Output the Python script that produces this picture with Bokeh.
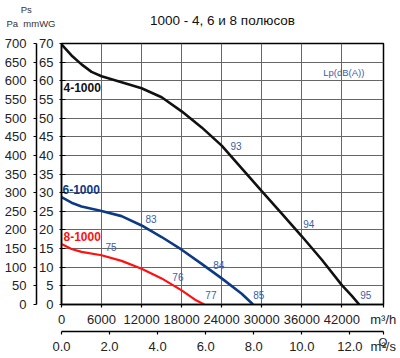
from bokeh.plotting import figure
from bokeh.layouts import column
from bokeh.models import Range1d, LinearAxis, FixedTicker, NumeralTickFormatter
from bokeh.core.properties import value
from bokeh.embed import file_html
from bokeh.resources import INLINE

# ---- data ----
flow_4 = [0, 1500, 3000, 4500, 6000, 9000, 12000, 15000, 18000, 21000, 24000,
          27000, 30000, 33000, 36000, 39000, 42000, 43500, 44600]
ps_4 = [69.8, 66.8, 64.4, 62.4, 61.2, 59.6, 58.0, 55.6, 51.8, 47.5, 42.6,
        36.5, 30.4, 24.4, 18.3, 12.0, 5.2, 2.3, 0.0]

flow_6 = [0, 1500, 3000, 6000, 9000, 12000, 15000, 18000, 21000, 24000, 27000, 28700]
ps_6 = [28.8, 27.3, 26.3, 25.1, 23.7, 21.2, 18.1, 14.7, 10.9, 7.0, 2.9, 0.0]

flow_8 = [0, 1500, 3000, 6000, 9000, 12000, 15000, 18000, 20000, 21400]
ps_8 = [16.2, 14.9, 14.1, 13.2, 11.7, 9.6, 7.0, 3.8, 1.3, 0.0]

lp_text = ["93", "94", "95", "83", "84", "85", "75", "76", "77"]
lp_x = [25300, 36200, 44740, 12570, 22740, 28730, 6580, 16610, 21550]
lp_y = [42.4, 21.5, 2.5, 22.85, 10.5, 2.5, 15.35, 7.3, 2.5]

series_names = ["4-1000", "6-1000", "8-1000"]
series_colors = ["#111111", "#0c3a84", "#ff1111"]
name_x = [300, 150, 300]
name_y = [58.2, 30.9, 18.3]

ticks_m3h = [0, 6000, 12000, 18000, 24000, 30000, 36000, 42000]
ticks_m3s = [0, 2, 4, 6, 8, 10, 12]
ticks_mm = list(range(0, 75, 5))
ticks_pa = list(range(0, 750, 50))

title_text = "1000 - 4, 6 и 8 полюсов"
cap_ps = "Ps"
cap_pa = "Pa"
cap_mm = "mmWG"
unit_h = "m³/h"
unit_s = "m³/s"
q_text = "Q"

X_MAX = 48240
H_UNIT_TICK = 48200
S_UNIT_TICK = 13.39
FONT = "Liberation Sans"
LBL = "#222222"
CAPC = "#333333"
NUMC = "#3a5ea4"
NB = "\u00a0"
HEAD_H = 33


def bare(fig):
    fig.outline_line_color = None
    fig.grid.visible = False


def style(ax, size, tin, tout, standoff):
    ax.major_label_text_font = FONT
    ax.major_label_text_font_size = size
    ax.major_label_text_color = LBL
    ax.axis_line_color = "black"
    ax.axis_line_width = 1.5
    ax.major_tick_line_color = "black"
    ax.major_tick_line_width = 1.2
    ax.major_tick_in = tin
    ax.major_tick_out = tout
    ax.minor_tick_line_color = None
    ax.major_label_standoff = standoff


def text_axis(ticks, overrides, standoff, size, y_range_name="default"):
    ax = LinearAxis(ticker=FixedTicker(ticks=ticks), y_range_name=y_range_name)
    ax.major_label_overrides = overrides
    ax.axis_line_color = None
    ax.major_tick_line_color = None
    ax.minor_tick_line_color = None
    ax.major_tick_in = 0
    ax.major_tick_out = 0
    ax.major_label_standoff = standoff
    ax.major_label_text_font = FONT
    ax.major_label_text_font_size = size
    return ax


# ---------- header strip (title and unit captions) ----------
top = figure(frame_width=322, frame_height=HEAD_H,
             min_border_left=61, min_border_right=17, min_border_top=0, min_border_bottom=0,
             x_range=Range1d(61, 383), y_range=Range1d(HEAD_H, 0),
             x_axis_location=None, y_axis_location=None,
             toolbar_location=None, output_backend="svg")
bare(top)
top.text(x=[222], y=[20], text=[title_text], text_font=value(FONT),
         text_font_size=value("13.5px"), text_color="#111111",
         text_align="center", text_baseline="middle")
cap = text_axis([8.5, 23], {8.5: cap_ps + NB * 9, 23: cap_pa + NB * 2 + cap_mm}, 6, "9.5px")
cap.major_label_text_color = CAPC
top.add_layout(cap, "left")

# ---------- main chart ----------
p = figure(frame_width=322, frame_height=261,
           min_border_left=61, min_border_right=17, min_border_top=10, min_border_bottom=25,
           x_range=Range1d(0, X_MAX), y_range=Range1d(0, 70),
           x_axis_location=None, y_axis_location=None,
           toolbar_location=None, output_backend="svg",
           background_fill_color="white", border_fill_color="white")
p.outline_line_color = "black"
p.outline_line_width = 1.5
p.extra_y_ranges = {"pa": Range1d(0, 700)}

p.xgrid.ticker = FixedTicker(ticks=ticks_m3h)
p.ygrid.ticker = FixedTicker(ticks=ticks_mm)
p.grid.grid_line_color = "#666666"
p.grid.grid_line_width = 1
p.grid.grid_line_alpha = 1

ax_mm = LinearAxis(ticker=FixedTicker(ticks=ticks_mm))
style(ax_mm, "13px", 4, 2, 6)
p.add_layout(ax_mm, "left")

ax_pa = LinearAxis(y_range_name="pa", ticker=FixedTicker(ticks=ticks_pa))
style(ax_pa, "13px", 0, 3, 7)
p.add_layout(ax_pa, "left")

ax_h = LinearAxis(ticker=FixedTicker(ticks=ticks_m3h + [H_UNIT_TICK]),
                  formatter=NumeralTickFormatter(format="0"))
style(ax_h, "13px", 0, 3, 4)
ax_h.major_label_overrides = {H_UNIT_TICK: unit_h}
p.add_layout(ax_h, "below")

# curves
p.line(flow_4, ps_4, line_color=series_colors[0], line_width=2.6)
p.line(flow_6, ps_6, line_color=series_colors[1], line_width=2.6)
p.line(flow_8, ps_8, line_color=series_colors[2], line_width=2.2)

# sound level numbers
p.text(x=lp_x, y=lp_y, text=lp_text, text_font=value(FONT), text_font_size=value("10px"),
       text_color=NUMC, text_baseline="middle", text_align="left")
p.text(x=[39200], y=[62.2], text=["Lp(dB(A))"], text_font=value(FONT),
       text_font_size=value("9.5px"), text_color=NUMC, text_baseline="middle", text_align="left")

# series names
p.text(x=name_x, y=name_y, text=series_names, text_font=value(FONT),
       text_font_size=value("12px"), text_font_style="bold", text_color=series_colors,
       text_baseline="middle", text_align="left")

# ---------- second flow axis (m3/s) ----------
bot = figure(frame_width=322, frame_height=2,
             min_border_left=61, min_border_right=17, min_border_top=0, min_border_bottom=27,
             x_range=Range1d(0, X_MAX / 3600), y_range=Range1d(0, 1),
             x_axis_location=None, y_axis_location=None,
             toolbar_location=None, output_backend="svg")
bare(bot)
ax_s = LinearAxis(ticker=FixedTicker(ticks=ticks_m3s + [S_UNIT_TICK]),
                  formatter=NumeralTickFormatter(format="0.0"))
style(ax_s, "13px", 0, 3, 4)
ax_s.major_label_overrides = {S_UNIT_TICK: unit_s}
bot.add_layout(ax_s, "below")
q_ax = text_axis([1], {1: q_text}, -5, "11.5px")
q_ax.major_label_text_color = LBL
bot.add_layout(q_ax, "right")

layout = column(top, p, bot, spacing=0)
open("out.html", "w").write(file_html(layout, INLINE))
